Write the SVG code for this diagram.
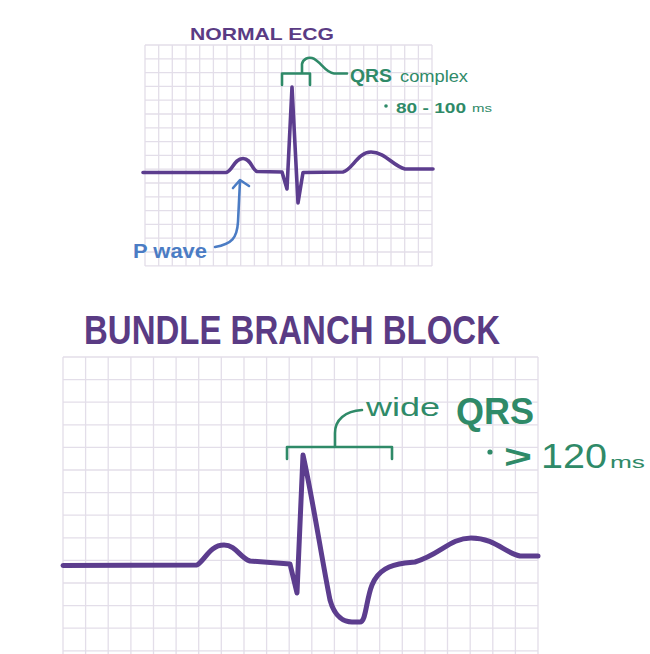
<svg xmlns="http://www.w3.org/2000/svg" width="650" height="654" viewBox="0 0 650 654">
<style>
.grid{fill:none;stroke:#e3dee9;stroke-width:1.3}
.trace{fill:none;stroke:#5c3d8e;stroke-linejoin:round;stroke-linecap:round}
.green{fill:none;stroke:#2f8a68;stroke-width:2.6;stroke-linecap:round;stroke-linejoin:round}
.blue{fill:none;stroke:#4b7cc4;stroke-width:2.6;stroke-linecap:round;stroke-linejoin:round}
.title{font-family:"Liberation Sans","DejaVu Sans",sans-serif;fill:#5a3b84}
.gt{font-family:"Liberation Sans","DejaVu Sans",sans-serif;fill:#2f8a68}
.bt{font-family:"Liberation Sans","DejaVu Sans",sans-serif;fill:#4b7cc4}
</style>
<rect width="650" height="654" fill="#ffffff"/>
<g id="normal-ecg">
<path class="grid" d="M145,45V266M158.7,45V266M172.3,45V266M186,45V266M199.7,45V266M213.4,45V266M227,45V266M240.7,45V266M254.4,45V266M268,45V266M281.7,45V266M295.4,45V266M309,45V266M322.7,45V266M336.4,45V266M350,45V266M363.7,45V266M377.4,45V266M391,45V266M404.7,45V266M418.4,45V266M432,45V266M145,45H432M145,58.8H432M145,72.6H432M145,86.4H432M145,100.2H432M145,114H432M145,127.8H432M145,141.6H432M145,155.4H432M145,169.2H432M145,183H432M145,196.8H432M145,210.6H432M145,224.4H432M145,238.2H432M145,252H432M145,265.8H432"/>
<text class="title" x="190" y="40" font-size="17" font-weight="bold" textLength="144" lengthAdjust="spacingAndGlyphs">NORMAL ECG</text>
<path class="trace" stroke-width="3.6" d="M143,172.5 L226,172.5 C232,172 234,158.5 243,158.5 C251,158.5 252,170 257,171.5 L282,172 L287,189 L292,87 L298,203 L303,172.5 L343,172 C352,170 358,152 371,152 C385,152 393,166 405,169 L433,169"/>
</g>
<g id="qrs-label">
<path class="green" d="M282,85 V73.5 H310 V85 M302,73.5 V64 C303,59 308,57 312,58 C320,60 325,73 334,73.5 H347"/>
<text class="gt" x="350" y="82" font-size="18" font-weight="bold" textLength="42" lengthAdjust="spacingAndGlyphs">QRS</text>
<text class="gt" x="400" y="82" font-size="16" textLength="68" lengthAdjust="spacingAndGlyphs">complex</text>
<circle cx="386" cy="106" r="1.8" fill="#2f8a68"/>
<text class="gt" x="396" y="113" font-size="15" font-weight="bold" textLength="70" lengthAdjust="spacingAndGlyphs">80 - 100</text>
<text class="gt" x="472" y="112" font-size="10" textLength="20" lengthAdjust="spacingAndGlyphs">ms</text>
</g>
<g id="p-wave-label">
<path class="blue" d="M215,247 C232,244 237,238 238,222 L240,181 M233,188 L240,180 L249,186"/>
<text class="bt" x="133" y="258" font-size="21" font-weight="bold" textLength="74" lengthAdjust="spacingAndGlyphs">P wave</text>
</g>
<g id="bundle-branch-block">
<path class="grid" d="M63,357V654M85.6,357V654M108.2,357V654M130.9,357V654M153.5,357V654M176.1,357V654M198.7,357V654M221.3,357V654M244,357V654M266.6,357V654M289.2,357V654M311.8,357V654M334.4,357V654M357.1,357V654M379.7,357V654M402.3,357V654M424.9,357V654M447.5,357V654M470.2,357V654M492.8,357V654M515.4,357V654M538,357V654M63,357H538M63,379.6H538M63,402.2H538M63,424.8H538M63,447.4H538M63,470H538M63,492.6H538M63,515.2H538M63,537.8H538M63,560.4H538M63,583H538M63,605.6H538M63,628.2H538M63,650.8H538"/>
<text class="title" x="84" y="344" font-size="40" font-weight="bold" textLength="416" lengthAdjust="spacingAndGlyphs">BUNDLE BRANCH BLOCK</text>
<path class="trace" stroke-width="5" d="M63,565.5 L197,565 C205,560 210,545 224,545 C236,545 240,558 250,561 L290,564 L297,593 L303,455 C312,495 322,560 330,600 C335,618 345,622 352,622 L360,622 C366,622 366,600 372,585 C378,570 390,565 405,563 L415,562 C440,555 450,538 471,538 C495,538 505,553 520,556 L538,556"/>
</g>
<g id="wide-qrs-label">
<path class="green" stroke-width="3.2" d="M287,459 V447 H392 V459 M335,447 V433 C335,420 345,411 362,410"/>
<text class="gt" x="366" y="416" font-size="26" textLength="74" lengthAdjust="spacingAndGlyphs">wide</text>
<text class="gt" x="456" y="424" font-size="36" font-weight="bold" textLength="78" lengthAdjust="spacingAndGlyphs">QRS</text>
<circle cx="490" cy="452" r="2.6" fill="#2f8a68"/>
<text class="gt" x="504" y="468" font-size="34" font-weight="bold" textLength="28" lengthAdjust="spacingAndGlyphs">&gt;</text>
<text class="gt" x="541" y="468" font-size="35" textLength="66" lengthAdjust="spacingAndGlyphs">120</text>
<text class="gt" x="610" y="468" font-size="17" textLength="35" lengthAdjust="spacingAndGlyphs">ms</text>
</g>
</svg>
